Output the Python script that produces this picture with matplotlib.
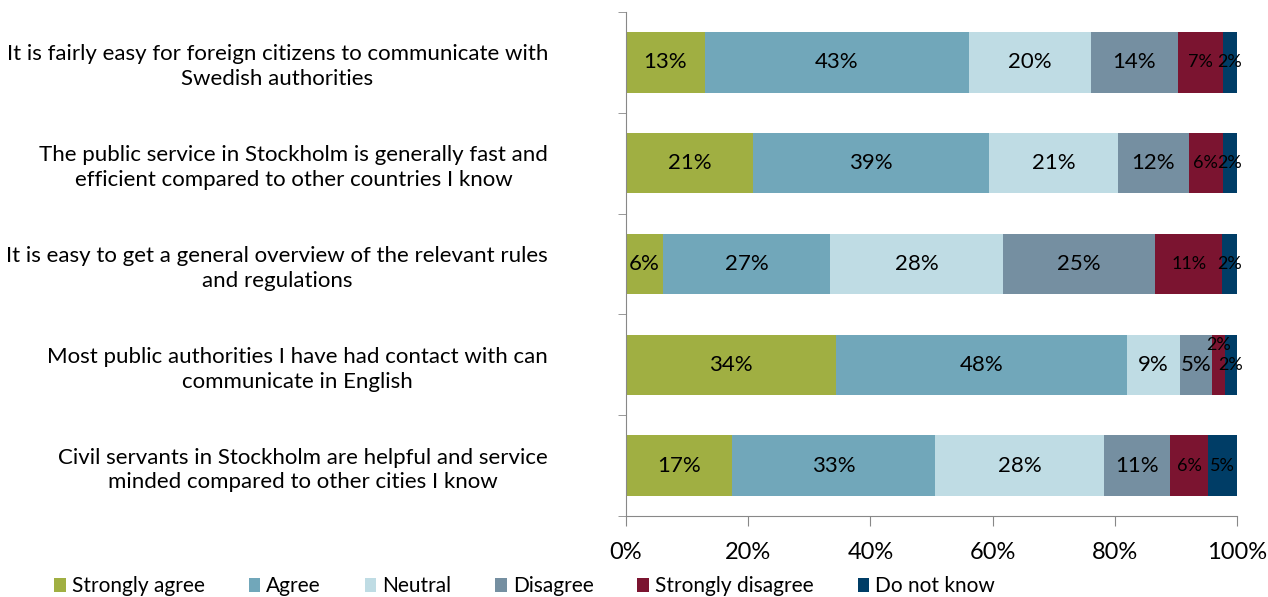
import numpy as np
import matplotlib.pyplot as plt

plt.rcParams['font.family'] = ['Lato', 'DejaVu Sans']

statements = [
    "It is fairly easy for foreign citizens to communicate with\nSwedish authorities",
    "The public service in Stockholm is generally fast and\nefficient compared to other countries I know",
    "It is easy to get a general overview of the relevant rules\nand regulations",
    "Most public authorities I have had contact with can\ncommunicate in English",
    "Civil servants in Stockholm are helpful and service\nminded compared to other cities I know",
]
answers = ["Strongly agree", "Agree", "Neutral", "Disagree", "Strongly disagree", "Do not know"]
colors = ["#A0AF42", "#71A7BA", "#BFDCE4", "#758FA1", "#7B1430", "#003D66"]

# share of respondents (%) per statement, one list per answer
strongly_agree    = [12.9, 20.8, 6.1, 34.3, 17.4]
agree             = [43.2, 38.6, 27.3, 47.7, 33.1]
neutral           = [20.0, 21.1, 28.3, 8.7, 27.8]
disagree          = [14.2, 11.6, 24.9, 5.3, 10.8]
strongly_disagree = [7.4, 5.6, 11.0, 2.0, 6.1]
do_not_know       = [2.3, 2.3, 2.4, 2.0, 4.8]

series = [strongly_agree, agree, neutral, disagree, strongly_disagree, do_not_know]

fig = plt.figure(figsize=(12.68, 5.97), dpi=100)
ax = fig.add_axes([0.4937, 0.1357, 0.4818, 0.8443])

y = np.arange(len(statements))
left = np.zeros(len(statements))
for i, (vals, name, col) in enumerate(zip(series, answers, colors)):
    vals = np.array(vals)
    ax.barh(y, vals, left=left, height=0.6, color=col, label=name)
    fs = 16 if i < 4 else 13
    for j, v in enumerate(vals):
        dy = 0
        if i == 4 and j == 3:
            dy = -0.2  # lift the crowded label above its neighbours
        ax.text(left[j] + v / 2, y[j] + dy, f"{v:.0f}%", ha='center', va='center',
                fontsize=fs, color='black')
    left += vals

ax.set_xlim(0, 100)
ax.set_ylim(len(statements) - 0.5, -0.5)
ax.set_xticks(np.arange(0, 101, 20))
ax.set_xticklabels([f"{t}%" for t in range(0, 101, 20)], fontsize=17)
ax.tick_params(axis='x', length=7, color='#888888', pad=12)

ax.set_yticks(y)
ax.set_yticklabels(statements, fontsize=16, multialignment='center', linespacing=1.3)
ax.tick_params(axis='y', which='major', length=0, pad=56)
ax.set_yticks(np.arange(-0.5, len(statements)), minor=True)
ax.tick_params(axis='y', which='minor', length=6, color='#888888')

for s in ['top', 'right']:
    ax.spines[s].set_visible(False)
for s in ['left', 'bottom']:
    ax.spines[s].set_color('#888888')

fig.legend(loc='lower left', bbox_to_anchor=(0.028, -0.03), ncol=6, frameon=False,
           fontsize=15, handlelength=0.55, handleheight=0.7, handletextpad=0.3,
           columnspacing=2.1)

fig.savefig("out.png", dpi=100)
